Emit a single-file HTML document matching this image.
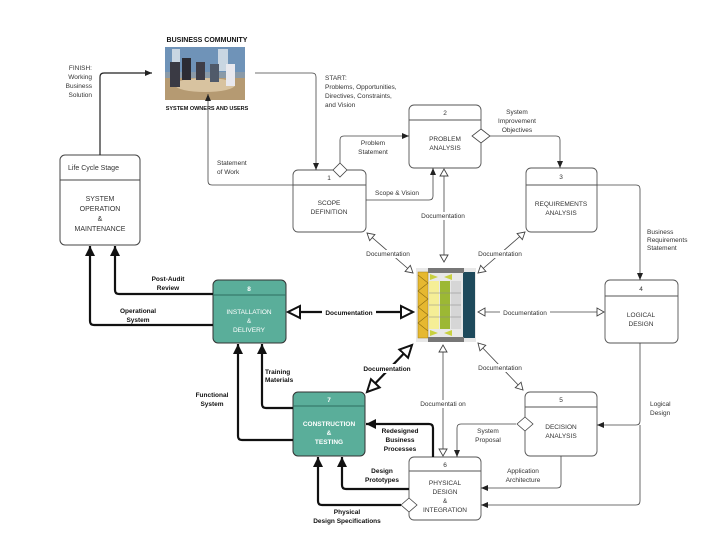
<!DOCTYPE html>
<html><head><meta charset="utf-8"><style>
html,body{margin:0;padding:0;background:#fff;}
svg{display:block;font-family:"Liberation Sans",sans-serif;}
text{font-size:6.5px;fill:#333;}
.b{font-weight:bold;fill:#111;}
.w{fill:#fff;}
</style></head><body>
<svg width="720" height="540" viewBox="0 0 720 540" xmlns="http://www.w3.org/2000/svg">
<defs>
<marker id="f" markerWidth="8" markerHeight="8" refX="7" refY="4" orient="auto" markerUnits="userSpaceOnUse"><path d="M0,1 L7,4 L0,7 z" fill="#222"/></marker>
<marker id="fb" markerWidth="12" markerHeight="12" refX="10" refY="6" orient="auto" markerUnits="userSpaceOnUse"><path d="M0,1 L10,6 L0,11 z" fill="#111"/></marker>
<marker id="h" markerWidth="10" markerHeight="10" refX="8" refY="5" orient="auto" markerUnits="userSpaceOnUse"><path d="M1,1 L8,5 L1,9 z" fill="#fff" stroke="#444" stroke-width="0.9"/></marker>
<marker id="hs" markerWidth="10" markerHeight="10" refX="1" refY="5" orient="auto" markerUnits="userSpaceOnUse"><path d="M8,1 L1,5 L8,9 z" fill="#fff" stroke="#444" stroke-width="0.9"/></marker>
<marker id="hb" markerWidth="16" markerHeight="16" refX="13" refY="8" orient="auto" markerUnits="userSpaceOnUse"><path d="M1,2 L13,8 L1,14 z" fill="#fff" stroke="#111" stroke-width="2"/></marker>
<marker id="hbs" markerWidth="16" markerHeight="16" refX="2" refY="8" orient="auto" markerUnits="userSpaceOnUse"><path d="M14,2 L2,8 L14,14 z" fill="#fff" stroke="#111" stroke-width="2"/></marker>
</defs>

<!-- Business community -->
<text x="207" y="42" text-anchor="middle" class="b" style="font-size:7px">BUSINESS COMMUNITY</text>
<rect x="165" y="47" width="80" height="53" fill="#8a9aa8"/>
<rect x="165" y="47" width="80" height="25" fill="#6f93b8"/>
<rect x="172" y="49" width="8" height="22" fill="#c9d6e2"/>
<rect x="218" y="49" width="10" height="22" fill="#c9d6e2"/>
<rect x="165" y="78" width="80" height="22" fill="#b59a72"/>
<ellipse cx="205" cy="85" rx="30" ry="7" fill="#d8c3a0"/>
<rect x="170" y="62" width="10" height="25" fill="#3a3a44"/>
<rect x="182" y="58" width="9" height="22" fill="#2c2c34"/>
<rect x="196" y="62" width="9" height="18" fill="#3e3e48"/>
<rect x="210" y="64" width="9" height="18" fill="#505a6a"/>
<rect x="226" y="64" width="9" height="22" fill="#e8e8ee"/>
<text x="207" y="110" text-anchor="middle" class="b" style="font-size:5.5px">SYSTEM OWNERS AND  USERS</text>

<!-- Life cycle box -->
<rect x="60" y="155" width="80" height="90" rx="5" fill="#fff" stroke="#444"/>
<line x1="60" y1="180" x2="140" y2="180" stroke="#444"/>
<text x="68" y="170" style="font-size:7px">Life Cycle Stage</text>
<text x="100" y="201" text-anchor="middle" style="font-size:7px">SYSTEM</text>
<text x="100" y="211" text-anchor="middle" style="font-size:7px">OPERATION</text>
<text x="100" y="221" text-anchor="middle" style="font-size:7px">&amp;</text>
<text x="100" y="231" text-anchor="middle" style="font-size:7px">MAINTENANCE</text>
<text x="92" y="70" text-anchor="end">FINISH:</text>
<text x="92" y="79" text-anchor="end">Working</text>
<text x="92" y="88" text-anchor="end">Business</text>
<text x="92" y="97" text-anchor="end">Solution</text>
<path d="M100,155 V77 Q100,73 104,73 H152" fill="none" stroke="#222" stroke-width="1.2" marker-end="url(#f)"/>

<!-- Boxes -->
<g fill="#fff" stroke="#555" stroke-width="0.9">
<rect x="293" y="170" width="73" height="62" rx="5"/>
<rect x="409" y="105" width="72" height="63" rx="5"/>
<rect x="526" y="168" width="71" height="64" rx="5"/>
<rect x="605" y="280" width="73" height="63" rx="5"/>
<rect x="525" y="392" width="72" height="64" rx="5"/>
<rect x="409" y="457" width="72" height="63" rx="5"/>
</g>
<g stroke="#555" stroke-width="0.9">
<line x1="293" y1="185" x2="366" y2="185"/>
<line x1="409" y1="120" x2="481" y2="120"/>
<line x1="526" y1="185" x2="597" y2="185"/>
<line x1="605" y1="296" x2="678" y2="296"/>
<line x1="525" y1="407" x2="597" y2="407"/>
<line x1="409" y1="471" x2="481" y2="471"/>
</g>
<rect x="293" y="392" width="72" height="64" rx="5" fill="#5aae9a" stroke="#333"/>
<line x1="293" y1="406" x2="365" y2="406" stroke="#2f6f60"/>
<rect x="213" y="280" width="73" height="63" rx="5" fill="#5aae9a" stroke="#333"/>
<line x1="213" y1="295" x2="286" y2="295" stroke="#2f6f60"/>

<text x="329" y="180" text-anchor="middle">1</text>
<text x="329" y="205" text-anchor="middle">SCOPE</text>
<text x="329" y="214" text-anchor="middle">DEFINITION</text>
<text x="445" y="115" text-anchor="middle">2</text>
<text x="445" y="141" text-anchor="middle">PROBLEM</text>
<text x="445" y="150" text-anchor="middle">ANALYSIS</text>
<text x="561" y="179" text-anchor="middle">3</text>
<text x="561" y="206" text-anchor="middle">REQUIREMENTS</text>
<text x="561" y="215" text-anchor="middle">ANALYSIS</text>
<text x="641" y="291" text-anchor="middle">4</text>
<text x="641" y="317" text-anchor="middle">LOGICAL</text>
<text x="641" y="326" text-anchor="middle">DESIGN</text>
<text x="561" y="402" text-anchor="middle">5</text>
<text x="561" y="429" text-anchor="middle">DECISION</text>
<text x="561" y="438" text-anchor="middle">ANALYSIS</text>
<text x="445" y="467" text-anchor="middle">6</text>
<text x="445" y="485" text-anchor="middle">PHYSICAL</text>
<text x="445" y="494" text-anchor="middle">DESIGN</text>
<text x="445" y="503" text-anchor="middle">&amp;</text>
<text x="445" y="512" text-anchor="middle">INTEGRATION</text>
<text x="329" y="402" text-anchor="middle" class="b w">7</text>
<text x="329" y="426" text-anchor="middle" class="b w">CONSTRUCTION</text>
<text x="329" y="435" text-anchor="middle" class="b w">&amp;</text>
<text x="329" y="444" text-anchor="middle" class="b w">TESTING</text>
<text x="249" y="291" text-anchor="middle" class="b w">8</text>
<text x="249" y="314" text-anchor="middle" class="w">INSTALLATION</text>
<text x="249" y="323" text-anchor="middle" class="w">&amp;</text>
<text x="249" y="332" text-anchor="middle" class="w">DELIVERY</text>

<!-- thin connectors -->
<g fill="none" stroke="#444" stroke-width="0.8">
<path d="M255,73 H312 Q316,73 316,77 V170" marker-end="url(#f)"/>
<path d="M293,185 H212 Q208,185 208,181 V94" marker-end="url(#f)"/>
<path d="M340,164 V140 Q340,136 344,136 H409" marker-end="url(#f)"/>
<path d="M366,200 H429 Q433,200 433,196 V168" marker-end="url(#f)"/>
<path d="M490,136 H556 Q560,136 560,140 V168" marker-end="url(#f)"/>
<path d="M597,185 H636 Q640,185 640,189 V280" marker-end="url(#f)"/>
<path d="M640,343 V421 Q640,425 636,425 H597" marker-end="url(#f)"/>
<path d="M640,425 V501 Q640,505 636,505 H481" marker-end="url(#f)"/>
<path d="M561,456 V484 Q561,488 557,488 H481" marker-end="url(#f)"/>
<path d="M516,424 H461 Q457,424 457,428 V457" marker-end="url(#f)"/>
<path d="M444,169 V262" marker-start="url(#hs)" marker-end="url(#h)"/>
<path d="M443,345 V456" marker-start="url(#hs)" marker-end="url(#h)"/>
<path d="M367,233 L413,273" marker-start="url(#hs)" marker-end="url(#h)"/>
<path d="M525,232 L478,273" marker-start="url(#hs)" marker-end="url(#h)"/>
<path d="M604,312 L478,312" marker-start="url(#hs)" marker-end="url(#h)"/>
<path d="M478,343 L523,390" marker-start="url(#hs)" marker-end="url(#h)"/>
</g>
<!-- diamonds -->
<g fill="#fff" stroke="#444" stroke-width="0.8">
<path d="M340,163 L347,170 L340,177 L333,170 z"/>
<path d="M481,129 L490,136 L481,143 L472,136 z"/>
<path d="M525,417 L533,424 L525,431 L517,424 z"/>
<path d="M409,498 L417,505 L409,512 L401,505 z"/>
</g>

<!-- thick connectors -->
<g fill="none" stroke="#111" stroke-width="2.2">
<path d="M213,294 H119 Q115,294 115,290 V246" marker-end="url(#fb)"/>
<path d="M213,325 H94 Q90,325 90,321 V246" marker-end="url(#fb)"/>
<path d="M293,440 H242 Q238,440 238,436 V344" marker-end="url(#fb)"/>
<path d="M293,408 H266 Q262,408 262,404 V344" marker-end="url(#fb)"/>
<path d="M433,457 V428 Q433,424 429,424 H366" marker-end="url(#fb)"/>
<path d="M409,489 H346 Q342,489 342,485 V457" marker-end="url(#fb)"/>
<path d="M401,505 H322 Q318,505 318,501 V457" marker-end="url(#fb)"/>
<path d="M288,312 H413" marker-start="url(#hbs)" marker-end="url(#hb)"/>
<path d="M367,392 L412,345" marker-start="url(#hbs)" marker-end="url(#hb)"/>
</g>
<rect x="322" y="307" width="54" height="10" fill="#fff"/>
<text x="349" y="315" text-anchor="middle" class="b">Documentation</text>
<rect x="362" y="364" width="52" height="9" fill="#fff"/>
<text x="387" y="371" text-anchor="middle" class="b">Documentation</text>

<!-- cube -->
<g>
<rect x="416" y="268" width="60" height="74" fill="#e8e8e8"/>
<rect x="418" y="272" width="10" height="66" fill="#e6b830" stroke="#a07c10" stroke-width="0.5"/>
<path d="M418,275 l10,8 l-10,8 l10,8 l-10,8 l10,8 l-10,8 l10,8" fill="none" stroke="#8a6a10" stroke-width="0.6"/>
<rect x="429" y="281" width="10" height="48" fill="#f5ee96"/>
<rect x="440" y="281" width="10" height="48" fill="#9cb834"/>
<rect x="451" y="281" width="10" height="48" fill="#d6d6d6"/>
<rect x="463" y="272" width="12" height="66" fill="#1e4a5c"/>
<g stroke="#888" stroke-width="0.5"><line x1="429" y1="293" x2="461" y2="293"/><line x1="429" y1="305" x2="461" y2="305"/><line x1="429" y1="317" x2="461" y2="317"/></g>
<rect x="428" y="268" width="36" height="5" fill="#777"/>
<rect x="428" y="337" width="36" height="5" fill="#777"/>
<path d="M430,274 l8,3 l-8,3 z M452,274 l-8,3 l8,3 z M430,330 l8,3 l-8,3 z M452,330 l-8,3 l8,3 z" fill="#c8d040"/>
</g>

<!-- labels -->
<text x="325" y="80">START:</text>
<text x="325" y="89">Problems, Opportunities,</text>
<text x="325" y="98">Directives, Constraints,</text>
<text x="325" y="107">and Vision</text>
<text x="217" y="165">Statement</text>
<text x="217" y="174">of Work</text>
<text x="373" y="145" text-anchor="middle">Problem</text>
<text x="373" y="154" text-anchor="middle">Statement</text>
<text x="397" y="195" text-anchor="middle">Scope &amp; Vision</text>
<text x="517" y="114" text-anchor="middle">System</text>
<text x="517" y="123" text-anchor="middle">Improvement</text>
<text x="517" y="132" text-anchor="middle">Objectives</text>
<text x="647" y="234">Business</text>
<text x="647" y="242">Requirements</text>
<text x="647" y="250">Statement</text>
<text x="650" y="406">Logical</text>
<text x="650" y="415">Design</text>
<text x="523" y="473" text-anchor="middle">Application</text>
<text x="523" y="482" text-anchor="middle">Architecture</text>
<text x="488" y="433" text-anchor="middle">System</text>
<text x="488" y="442" text-anchor="middle">Proposal</text>
<g>
<rect x="420" y="212" width="46" height="8" fill="#fff"/>
<text x="443" y="218" text-anchor="middle">Documentation</text>
<rect x="420" y="400" width="46" height="8" fill="#fff"/>
<text x="443" y="406" text-anchor="middle">Documentati on</text>
<rect x="365" y="250" width="46" height="8" fill="#fff"/>
<text x="388" y="256" text-anchor="middle">Documentation</text>
<rect x="477" y="250" width="46" height="8" fill="#fff"/>
<text x="500" y="256" text-anchor="middle">Documentation</text>
<rect x="500" y="308" width="50" height="8" fill="#fff"/>
<text x="525" y="315" text-anchor="middle">Documentation</text>
<rect x="477" y="364" width="46" height="8" fill="#fff"/>
<text x="500" y="370" text-anchor="middle">Documentation</text>
</g>
<text x="168" y="281" text-anchor="middle" class="b">Post-Audit</text>
<text x="168" y="290" text-anchor="middle" class="b">Review</text>
<text x="138" y="313" text-anchor="middle" class="b">Operational</text>
<text x="138" y="322" text-anchor="middle" class="b">System</text>
<text x="212" y="397" text-anchor="middle" class="b">Functional</text>
<text x="212" y="406" text-anchor="middle" class="b">System</text>
<text x="265" y="374" class="b">Training</text>
<text x="265" y="382" class="b">Materials</text>
<text x="400" y="433" text-anchor="middle" class="b">Redesigned</text>
<text x="400" y="442" text-anchor="middle" class="b">Business</text>
<text x="400" y="451" text-anchor="middle" class="b">Processes</text>
<text x="382" y="473" text-anchor="middle" class="b">Design</text>
<text x="382" y="482" text-anchor="middle" class="b">Prototypes</text>
<text x="347" y="514" text-anchor="middle" class="b">Physical</text>
<text x="347" y="523" text-anchor="middle" class="b">Design Specifications</text>
</svg>
</body></html>
